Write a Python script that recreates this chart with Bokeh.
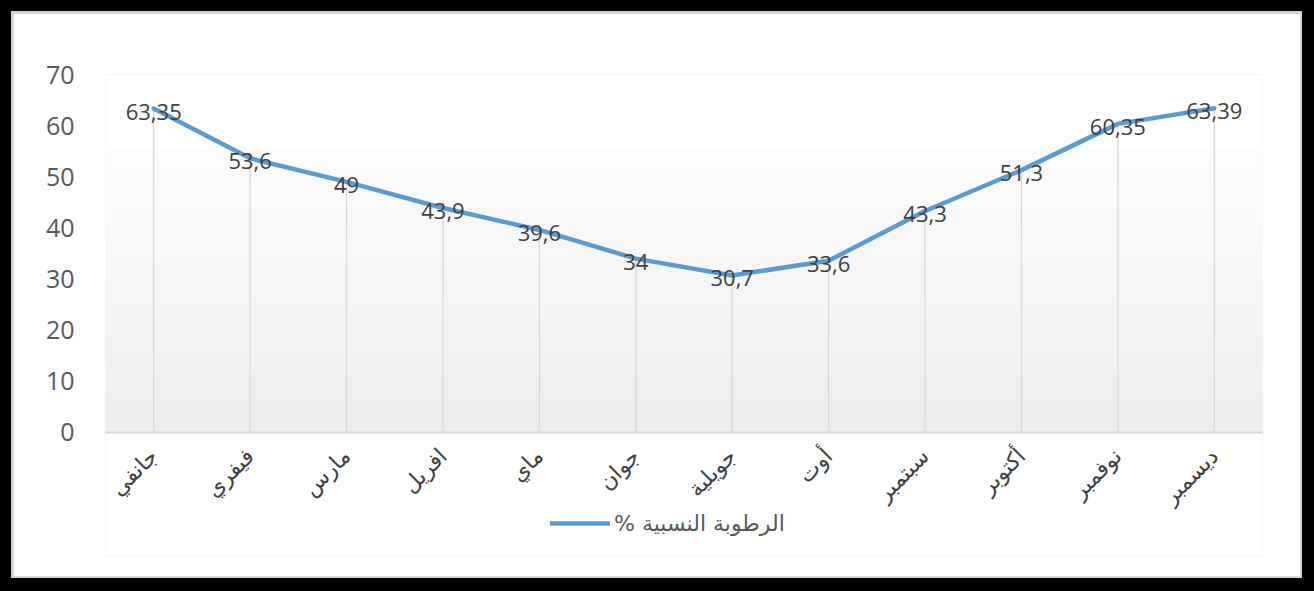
import numpy as np
from bokeh.plotting import figure
from bokeh.models import ColumnDataSource, Range1d, FixedTicker, Legend, LegendItem
from bokeh.layouts import column
from bokeh.embed import file_html
from bokeh.resources import INLINE

# ---- data ----
months = ["جانفي", "فيفري", "مارس", "افريل", "ماي", "جوان",
          "جويلية", "أوت", "سبتمبر", "أكتوبر", "نوفمبر", "ديسمبر"]
humidity = [63.35, 53.6, 49, 43.9, 39.6, 34, 30.7, 33.6, 43.3, 51.3, 60.35, 63.39]
y_ticks = [0, 10, 20, 30, 40, 50, 60, 70]
series_name = "% الرطوبة النسبية"

labels = [("%g" % v).replace(".", ",") for v in humidity]
src = ColumnDataSource(dict(m=months, v=humidity, lab=labels, zero=[0] * len(months)))

LINE = "#5B9BD5"

# frame extends below y=0 so that the legend can sit inside it
p = figure(x_range=months, y_range=Range1d(-24.25, 70), width=1287, height=563,
           output_backend="svg", toolbar_location=None,
           min_border_left=92, min_border_right=38, min_border_top=61, min_border_bottom=20)
p.outline_line_color = None
p.background_fill_color = "white"
p.border_fill_color = "white"
p.xgrid.grid_line_color = None
p.ygrid.grid_line_color = None

# soft vertical gradient in the plot area (decoration)
n = 256
shade = np.linspace(238, 253, n).astype(np.uint32)
img = np.zeros((n, 1), dtype=np.uint32)
view = img.view(dtype=np.uint8).reshape((n, 1, 4))
view[:, 0, 0] = shade
view[:, 0, 1] = shade
view[:, 0, 2] = shade
view[:, 0, 3] = 255
p.image_rgba(image=[img], x=0, y=0, dw=len(months), dh=56)

# drop lines
p.segment(x0="m", y0="zero", x1="m", y1="v", source=src, line_color="#d9d9d9", line_width=1.3)

line = p.line(x="m", y="v", source=src, line_color=LINE, line_width=4.5,
              line_join="round", line_cap="round")

p.text(x="m", y="v", text="lab", source=src, text_align="center", text_baseline="middle",
       y_offset=3, text_color="#404040", text_font_size="22px",
       text_font={"value": "'Liberation Sans Narrow', 'Open Sans'"})

# axes
p.yaxis.ticker = FixedTicker(ticks=y_ticks)
p.yaxis.axis_line_color = None
p.yaxis.major_tick_line_color = None
p.yaxis.minor_tick_line_color = None
p.yaxis.major_label_text_font_size = "25px"
p.yaxis.major_label_text_color = "#595959"
p.yaxis.major_label_text_font = "'Liberation Sans Narrow', 'Open Sans'"
p.yaxis.major_label_standoff = 25

p.xaxis.fixed_location = 0
p.xaxis.axis_line_color = "#d9d9d9"
p.xaxis.axis_line_width = 2
p.xaxis.major_tick_line_color = None
p.xaxis.minor_tick_line_color = None
p.xaxis.major_label_orientation = np.pi / 4
p.xaxis.major_label_text_font_size = "22px"
p.xaxis.major_label_text_color = "#404040"
p.xaxis.major_label_text_font = "DejaVu Sans"
p.xaxis.major_label_standoff = 14

legend = Legend(items=[LegendItem(label=series_name, renderers=[line])],
                location=(445, 20), orientation="horizontal",
                border_line_color=None, background_fill_alpha=0,
                padding=0, margin=0, glyph_width=60, glyph_height=26,
                label_text_font_size="22px", label_text_color="#595959",
                label_text_font="DejaVu Sans", label_standoff=4)
p.add_layout(legend, "center")

inner = column(p, styles={"background-color": "#d4d4d4", "padding": "2px"})
outer = column(inner, styles={"background-color": "black", "padding": "11px 12px 13px 11px"})

open("out.html", "w").write(file_html(outer, INLINE))
